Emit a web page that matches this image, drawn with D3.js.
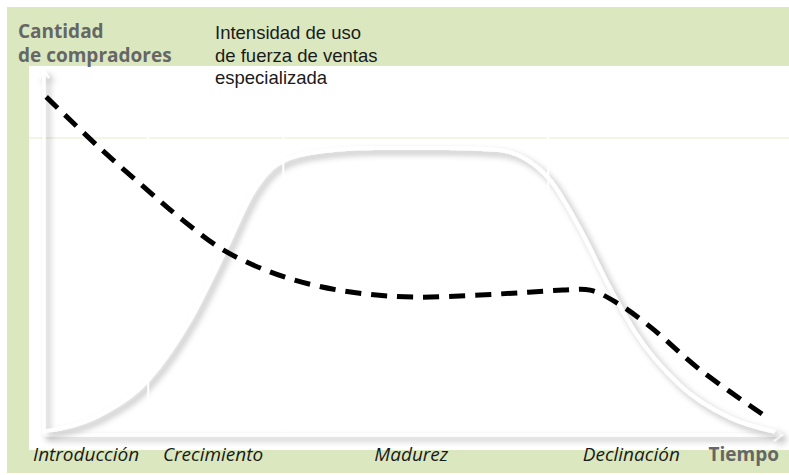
<!DOCTYPE html>
<html>
<head>
<meta charset="utf-8">
<script src="https://cdn.jsdelivr.net/npm/d3@7"></script>
<style>
  body { margin: 0; background: #fff; }
  svg { display: block; }
  text { font-family: "Open Sans", "Noto Sans", sans-serif; }
  .series-label { font-family: "Liberation Sans", Arial, sans-serif; }
</style>
</head>
<body>
<svg id="chart"></svg>
<script>
const W = 789, H = 475;

// time (0-100) along the product life cycle
const salesTime   = [0, 7.6, 14.4, 19.9, 24.7, 28.5, 31.5, 36.2, 45, 55, 61.5, 65.5, 68.9, 73, 77.1, 80.5, 86.6, 93.5, 99.6];
const salesValues = [1, 5.7, 16.3, 32.9, 52.9, 69.5, 77, 80.6, 82, 82, 81.5, 79, 73, 59, 42, 29.5, 14.3, 4.9, 0.9];

const forceTime   = [0.3, 7.6, 14.4, 18.9, 24.4, 30.8, 36.6, 43, 50.3, 59.4, 66, 70.7, 74.4, 78.1, 82.6, 89.4, 98.6];
const forceValues = [96.6, 82, 69.4, 61.4, 52.9, 46.6, 42.9, 40.5, 39.4, 40, 40.8, 41.4, 41.4, 37.7, 30.9, 18.6, 4.9];

const stages = ["Introducción", "Crecimiento", "Madurez", "Declinación"];
const stageStarts = [-1.5, 16.2, 45, 73.4];   // where each stage label starts (time units)
const stageBounds = [14.2, 32.6, 68.7];       // white dividers between stages

const yTitle = ["Cantidad", "de compradores"];
const seriesLabel = ["Intensidad de uso", "de fuerza de ventas", "especializada"];
const xTitle = "Tiempo";

const svg = d3.select("#chart").attr("width", W).attr("height", H);

const defs = svg.append("defs");
const shadow = defs.append("filter").attr("id", "shadow")
  .attr("x", "-20%").attr("y", "-20%").attr("width", "140%").attr("height", "140%");
shadow.append("feDropShadow")
  .attr("dx", 4).attr("dy", 4).attr("stdDeviation", 3)
  .attr("flood-color", "#000").attr("flood-opacity", 0.3);

// background panels
svg.append("rect").attr("x", 7).attr("y", 7).attr("width", W - 7).attr("height", 466)
  .attr("fill", "#dbe8bf");
svg.append("rect").attr("x", 29).attr("y", 66).attr("width", W - 29).attr("height", 384)
  .attr("fill", "#fff");

const x = d3.scaleLinear().domain([0, 100]).range([44, 778]);
const y = d3.scaleLinear().domain([0, 100]).range([435, 85]);

// faint guide line
svg.append("line")
  .attr("x1", 29).attr("x2", W).attr("y1", 138).attr("y2", 138)
  .attr("stroke", "#eef3de").attr("stroke-width", 1.5);

// axes as white lines with shadow
const axisG = svg.append("g").attr("filter", "url(#shadow)");
axisG.append("path")
  .attr("d", `M${x(0)},${y(0)} V72`)
  .attr("stroke", "#fff").attr("stroke-width", 3).attr("fill", "none");
axisG.append("path")
  .attr("d", `M${x(0)},${y(0)} H781`)
  .attr("stroke", "#fff").attr("stroke-width", 3).attr("fill", "none");
axisG.append("path")
  .attr("d", `M774,429 L782,435 L774,441`)
  .attr("stroke", "#fff").attr("stroke-width", 2).attr("fill", "none");
axisG.append("path")
  .attr("d", `M39,78 L44,71 L49,78`)
  .attr("stroke", "#fff").attr("stroke-width", 2).attr("fill", "none");

// sales curve (white with shadow)
const line = d3.line().curve(d3.curveMonotoneX);
const salesPts = salesTime.map((t, i) => [x(t), y(salesValues[i])]);
svg.append("path")
  .attr("d", line(salesPts))
  .attr("fill", "none")
  .attr("stroke", "#fff")
  .attr("stroke-width", 4)
  .attr("filter", "url(#shadow)");

// stage dividers cutting through the shadow
svg.selectAll(".divider")
  .data(stageBounds)
  .enter().append("line")
  .attr("class", "divider")
  .attr("x1", d => x(d)).attr("x2", d => x(d))
  .attr("y1", 130).attr("y2", 432)
  .attr("stroke", "#fff").attr("stroke-width", 2);

// dashed curve
const forcePts = forceTime.map((t, i) => [x(t), y(forceValues[i])]);
svg.append("path")
  .attr("d", d3.line().curve(d3.curveCatmullRom.alpha(0.5))(forcePts))
  .attr("fill", "none")
  .attr("stroke", "#000")
  .attr("stroke-width", 5)
  .attr("stroke-dasharray", "16 10");

// y title
svg.append("text")
  .attr("x", 18).attr("y", 38)
  .attr("fill", "#666").attr("font-weight", "bold").attr("font-size", 19)
  .selectAll("tspan").data(yTitle).enter().append("tspan")
  .attr("x", 18).attr("dy", (d, i) => i ? 24 : 0)
  .text(d => d);

// series label
svg.append("text")
  .attr("class", "series-label")
  .attr("x", 215).attr("y", 39)
  .attr("fill", "#1a1a1a").attr("font-size", 18.5)
  .selectAll("tspan").data(seriesLabel).enter().append("tspan")
  .attr("x", 215).attr("dy", (d, i) => i ? 22.5 : 0)
  .text(d => d);

// stage labels
svg.selectAll(".stage")
  .data(stages)
  .enter().append("text")
  .attr("class", "stage")
  .attr("x", (d, i) => x(stageStarts[i]))
  .attr("y", 461)
  .attr("font-style", "italic")
  .attr("font-size", 19)
  .attr("fill", "#1a1a1a")
  .text(d => d);

svg.append("text")
  .attr("x", 779).attr("y", 461)
  .attr("text-anchor", "end")
  .attr("fill", "#666").attr("font-weight", "bold").attr("font-size", 19)
  .text(xTitle);
</script>
</body>
</html>
